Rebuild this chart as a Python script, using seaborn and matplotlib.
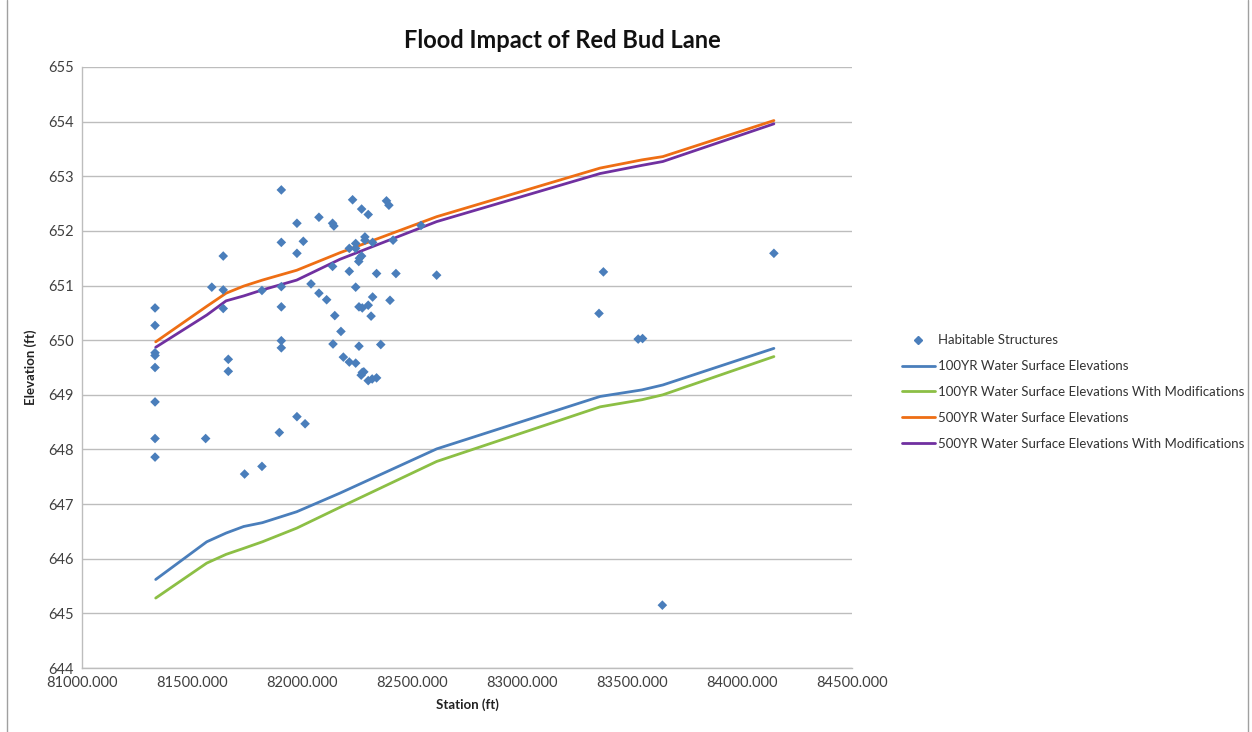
import seaborn as sns
import pandas as pd
import matplotlib.pyplot as plt
from matplotlib.lines import Line2D

# habitable structures (station, elevation)
structure_station = [81332, 81332, 81332, 81332, 81332, 81332, 81332, 81332, 81562, 81642,
                     81590, 81642, 81642, 81665, 81665, 81739, 81818, 81818, 81906, 81906,
                     81906, 81906, 81906, 81906, 81897, 81977, 81977, 81977, 82014, 82230,
                     82271, 82301, 82384, 82395, 82077, 82139, 82145, 82006, 82215, 82244,
                     82244, 82286, 82286, 82321, 82271, 82261, 82258, 82414, 82139, 82215,
                     82339, 82427, 82612, 82541, 82041, 82077, 82112, 82244, 82321, 82301,
                     82259, 82274, 82314, 82400, 82149, 82177, 82141, 82259, 82358, 82188,
                     82215, 82244, 82274, 82281, 82269, 82301, 82319, 82339, 83370, 83350,
                     83528, 83548, 84145, 83638]
structure_elev = [650.59, 650.27, 649.77, 649.72, 649.50, 648.87, 648.20, 647.86, 648.20, 651.54,
                  650.97, 650.92, 650.58, 649.65, 649.43, 647.55, 647.69, 650.91, 652.75, 651.79,
                  650.98, 650.61, 649.99, 649.86, 648.31, 652.14, 651.59, 648.60, 648.47, 652.57,
                  652.40, 652.30, 652.55, 652.47, 652.25, 652.14, 652.09, 651.81, 651.68, 651.77,
                  651.68, 651.89, 651.83, 651.79, 651.54, 651.50, 651.44, 651.83, 651.35, 651.26,
                  651.22, 651.22, 651.19, 652.10, 651.03, 650.86, 650.74, 650.97, 650.79, 650.64,
                  650.61, 650.59, 650.44, 650.73, 650.45, 650.16, 649.93, 649.89, 649.92, 649.69,
                  649.60, 649.58, 649.41, 649.42, 649.36, 649.26, 649.29, 649.31, 651.25, 650.49,
                  650.02, 650.03, 651.59, 645.15]

# water surface profiles
stations = [81335, 81567, 81655, 81735, 81820, 81976, 82172, 82612, 83355, 83545, 83640, 84145]
wse_100 = [645.62, 646.31, 646.47, 646.59, 646.66, 646.86, 647.20, 648.01, 648.97, 649.09, 649.18, 649.85]
wse_100_mod = [645.28, 645.92, 646.08, 646.19, 646.31, 646.56, 646.94, 647.78, 648.78, 648.91, 649.00, 649.70]
wse_500 = [649.97, 650.62, 650.86, 650.99, 651.10, 651.28, 651.60, 652.26, 653.15, 653.30, 653.36, 654.02]
wse_500_mod = [649.87, 650.46, 650.72, 650.81, 650.92, 651.10, 651.48, 652.17, 653.05, 653.20, 653.27, 653.96]

series = [
    ("100YR Water Surface Elevations", wse_100, "#4a7ebb"),
    ("100YR Water Surface Elevations With Modifications", wse_100_mod, "#8cbf45"),
    ("500YR Water Surface Elevations", wse_500, "#ee6e14"),
    ("500YR Water Surface Elevations With Modifications", wse_500_mod, "#7030a0"),
]

sns.set_style("white")
plt.rcParams['font.family'] = ['Lato', 'DejaVu Sans']

fig = plt.figure(figsize=(12.52, 7.32), dpi=100)
ax = fig.add_axes([82 / 1252, 64 / 732, 770 / 1252, 601 / 732])

pts = pd.DataFrame({"Station": structure_station, "Elevation": structure_elev})
sns.scatterplot(data=pts, x="Station", y="Elevation", marker="D", s=24,
                color="#4a7ebb", edgecolor="none", ax=ax, zorder=3)

for name, vals, col in series:
    df = pd.DataFrame({"Station": stations, "Elevation": vals})
    sns.lineplot(data=df, x="Station", y="Elevation", color=col, linewidth=2.0,
                 sort=False, estimator=None, ax=ax, zorder=2)

ax.set_xlim(81000, 84500)
ax.set_ylim(644, 655)
ax.set_xticks(range(81000, 84501, 500))
ax.set_xticklabels([f"{v}.000" for v in range(81000, 84501, 500)])
ax.set_yticks(range(644, 656))
ax.tick_params(axis="both", labelsize=10.5, colors="#404040", length=0, pad=6)
ax.grid(axis="y", color="#bdbdbd", linewidth=1)
ax.grid(axis="x", visible=False)
for s in ["top", "right"]:
    ax.spines[s].set_visible(False)
for s in ["left", "bottom"]:
    ax.spines[s].set_color("#bdbdbd")
    ax.spines[s].set_linewidth(1)

ax.set_xlabel("Station (ft)", fontsize=9.5, fontweight="bold", color="#222222", labelpad=6)
ax.set_ylabel("Elevation (ft)", fontsize=9.5, fontweight="bold", color="#222222", labelpad=8)

fig.text(562 / 1252, 1 - 41 / 732, "Flood Impact of Red Bud Lane", ha="center", va="center",
         fontsize=17, fontweight="bold", color="#111111")

handles = [Line2D([], [], marker="D", linestyle="none", color="#4a7ebb", markersize=4.5)]
labels = ["Habitable Structures"]
for name, vals, col in series:
    handles.append(Line2D([], [], color=col, linewidth=2.0))
    labels.append(name)
fig.legend(handles, labels, loc="center left", bbox_to_anchor=(890 / 1252, 1 - 392 / 732),
           frameon=False, fontsize=9.5, handlelength=2.5, handletextpad=0.2,
           labelspacing=1.05, labelcolor="#333333")

# chart border lines
fig.add_artist(Line2D([7 / 1252, 7 / 1252], [0, 1], color="#a0a0a0", linewidth=1))
fig.add_artist(Line2D([1248 / 1252, 1248 / 1252], [0, 1], color="#a0a0a0", linewidth=1))

fig.savefig("out.png", dpi=100)
